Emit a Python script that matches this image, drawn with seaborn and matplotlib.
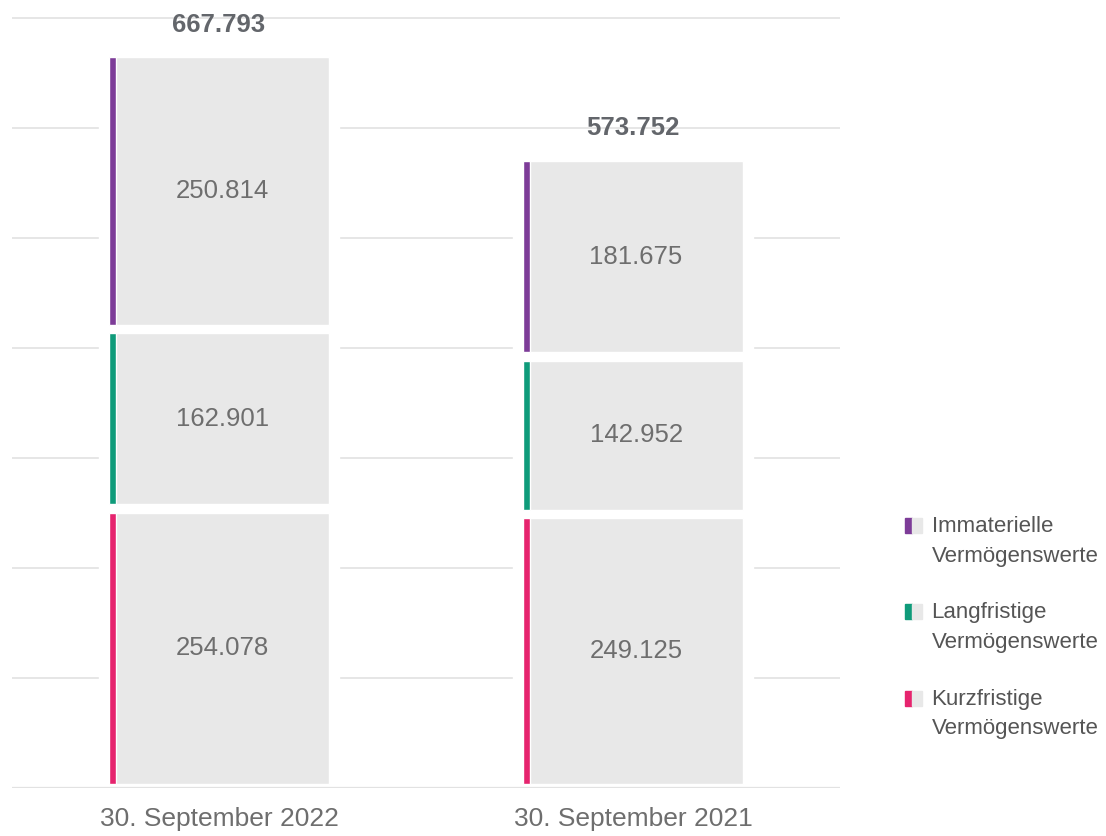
import matplotlib
matplotlib.use('Agg')
import matplotlib.pyplot as plt
from matplotlib.patches import Rectangle
import seaborn as sns

# Data (in TEUR), stacked from bottom to top
dates = ['30. September 2022', '30. September 2021']
kurzfristig = [254078, 249125]
langfristig = [162901, 142952]
immateriell = [250814, 181675]
totals = [667793, 573752]

segments = [kurzfristig, langfristig, immateriell]
seg_colors = ['#e6246e', '#0f9b7a', '#7d3c98']
legend_labels = ['Immaterielle\nVermögenswerte', 'Langfristige\nVermögenswerte', 'Kurzfristige\nVermögenswerte']
legend_colors = ['#7d3c98', '#0f9b7a', '#e6246e']

sns.set_theme(style='white')
plt.rcParams['font.family'] = ['Liberation Sans', 'DejaVu Sans']

text_col = '#6e6e6e'
fill_col = '#e8e8e8'
grid_col = '#e2e2e2'


# legend marker: coloured stripe + light grey square, aligned to the first text line
class StripeHandler:
    def legend_artist(self, legend, orig_handle, fontsize, handlebox):
        x0, y0 = -handlebox.xdescent, -handlebox.ydescent
        w, h = handlebox.width, handlebox.height
        lift = 0.72 * fontsize
        sw = w * 0.42
        handlebox.add_artist(Rectangle((x0, y0 + lift), sw, h, color=orig_handle.get_facecolor(),
                                       transform=handlebox.get_transform()))
        handlebox.add_artist(Rectangle((x0 + sw, y0 + lift), w - sw, h, color=fill_col,
                                       transform=handlebox.get_transform()))
        return handlebox


fig = plt.figure(figsize=(11.06, 8.36), dpi=100)
ax = fig.add_axes([12 / 1106, 48 / 836, 828 / 1106, 788 / 836])

width = 0.53      # visible face width
stripe = 0.015    # coloured stripe on the left
pad = 0.024       # white space that breaks the grid lines beside a bar
gap = 3800        # half of the white gap between segments (data units)

x = list(range(len(dates)))

# white backing so the grid lines stop short of the bars
ax.bar(x, totals, width=width + 2 * pad, color='white', zorder=2)

for i in x:
    bottom = 0
    for vals, col in zip(segments, seg_colors):
        v = vals[i]
        ax.bar(i, v - 2 * gap, bottom=bottom + gap, width=width,
               color=fill_col, zorder=3)
        ax.bar(i - width / 2, v - 2 * gap, bottom=bottom + gap, width=stripe,
               align='edge', color=col, zorder=4)
        ax.text(i + stripe / 2, bottom + v / 2, f'{v:,}'.replace(',', '.'),
                ha='center', va='center', fontsize=18.5, color=text_col, zorder=5)
        bottom += v
    ax.annotate(f'{totals[i]:,}'.replace(',', '.'), (i, totals[i]),
                xytext=(0, 20.5), textcoords='offset points',
                ha='center', va='center', fontsize=18.5, fontweight='bold',
                color='#63666b', zorder=5)

ax.set_xlim(-0.5, 1.5)
ax.set_ylim(0, 716000)
ax.set_yticks(range(0, 700001, 100000))
ax.set_yticklabels([])
ax.yaxis.grid(True, color=grid_col, linewidth=1.2, zorder=1)
ax.set_axisbelow(True)
ax.axhline(0, color=grid_col, linewidth=1.6, zorder=6)
ax.set_xticks(x)
ax.set_xticklabels(dates, fontsize=19, color=text_col)
ax.tick_params(axis='both', length=0)
ax.tick_params(axis='x', pad=14)
for s in ax.spines.values():
    s.set_visible(False)

handles = [Rectangle((0, 0), 1, 1, facecolor=c) for c in legend_colors]
leg = fig.legend(handles, legend_labels, loc='upper left',
                 bbox_to_anchor=(896 / 1106, 1 - 507 / 836),
                 handler_map={Rectangle: StripeHandler()},
                 frameon=False, fontsize=16, handlelength=0.75, handleheight=0.65,
                 handletextpad=0.45, labelspacing=1.6, borderaxespad=0)
for t in leg.get_texts():
    t.set_color('#555555')
    t.set_linespacing(1.55)
    t.set_verticalalignment('baseline')

fig.savefig('out.png', dpi=100)
